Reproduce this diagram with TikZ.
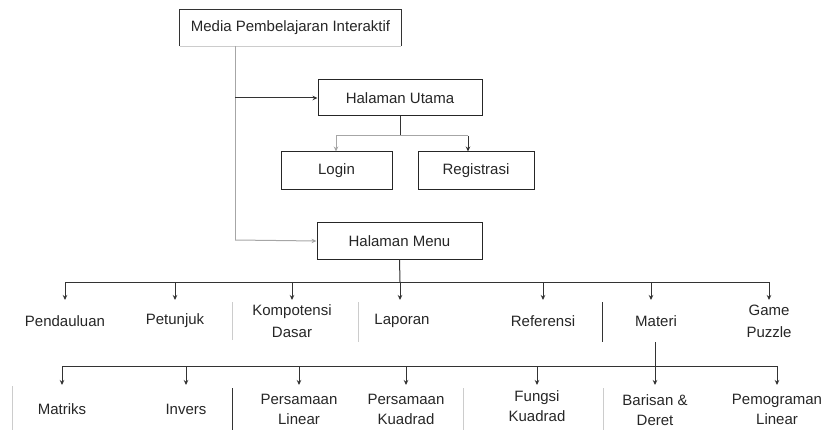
\documentclass[tikz,border=0pt]{standalone}
\usepackage{fontspec}
\setmainfont{Liberation Sans}
\usetikzlibrary{arrows.meta}
\begin{document}
\begin{tikzpicture}[x=1pt,y=-1pt,
  txt/.style={font=\fontsize{15}{22}\selectfont, text=black!85, align=center, inner sep=0pt},
  txtb/.style={font=\fontsize{15}{20}\selectfont, text=black!85, align=center, inner sep=0pt},
  boxn/.style={txt, draw=black!85, line width=1pt, minimum height=36pt},
  ln/.style={line width=1pt, draw=black!80},
  lgray/.style={line width=1pt, draw=black!35},
  sep/.style={line width=1pt, draw=black!20},
  arr/.style={ln, -{Stealth[length=5pt,width=4.5pt]}},
  garr/.style={lgray, -{Stealth[length=5pt,width=4.5pt]}}]
\useasboundingbox (0,0) rectangle (821,430);
\clip (0,0) rectangle (821,430);

% top box (no visible bottom edge)
\node[txt, minimum width=221pt, minimum height=36pt] (top) at (290.5,28) {Media Pembelajaran Interaktif};
\draw[ln] (top.south west) -- (top.north west) -- (top.north east) -- (top.south east);
\draw[sep] (top.south west) -- (top.south east);

\node[boxn, minimum width=164pt] (utama) at (400,98) {Halaman Utama};
\node[boxn, minimum width=111pt, minimum height=38pt] (login) at (336.5,171) {Login};
\node[boxn, minimum width=116pt, minimum height=38pt] (reg) at (476,171) {Registrasi};
\node[boxn, minimum width=165pt] (menu) at (399.5,241) {Halaman Menu};

% trunk from top box
\coordinate (t0) at (235,46);
\coordinate (t1) at (235,98);
\coordinate (t2) at (235,240);
\draw[lgray] (t0) -- (t2);
\draw[arr] (t1) -- (utama.west);
\draw[garr] (t2) -- (menu.west);

% utama -> login / registrasi
\coordinate (u0) at (400,136);
\coordinate (uL) at (336,136);
\coordinate (uR) at (468,136);
\draw[ln] (utama.south) -- (u0);
\draw[lgray] (uL) -- (uR);
\draw[garr] (uL) -- (uL |- login.north);
\draw[arr] (uR) -- (uR |- reg.north);

% level 2 labels
\foreach \n/\x/\t in {pend/65/Pendauluan, pet/175/Petunjuk, komp/292/Kompotensi\\Dasar, lap/402/Laporan, ref/543/Referensi, mat/656/Materi, game/769/Game\\Puzzle}{
  \node[txt] (\n) at (\x,321) {\t};
}
\coordinate (m0) at (400,282);
\draw[ln] (menu.south) -- (m0);
\draw[ln] (65,282) coordinate (mL) -- (769,282) coordinate (mR);
\foreach \x in {65,175,292,400,543,651,769}{
  \draw[arr] (\x,282) -- (\x,300);
}

% separators level 2
\draw[sep] (232,302) -- (232,340);
\draw[sep] (358,302) -- (358,342);
\draw[ln] (602,302) -- (602,342);

% level 3
\coordinate (b0) at (655,342);
\coordinate (b1) at (655,366);
\draw[ln] (b0) -- (b1);
\draw[ln] (62,366) -- (777,366);
\foreach \x in {62,186,299,406,537,655,777}{
  \draw[arr] (\x,366) -- (\x,385);
}
\foreach \n/\x/\y/\t in {matr/62/409/Matriks, inv/186/409/Invers, pl/299/409/Persamaan\\Linear, pk/406/409/Persamaan\\Kuadrad, fk/537/406/Fungsi\\Kuadrad, bd/655/410/Barisan \&\\Deret, pml/777/409/Pemograman\\Linear}{
  \node[txtb] (\n) at (\x,\y) {\t};
}
\draw[sep] (12,386) -- (12,430);
\draw[ln] (232,388) -- (232,430);
\draw[sep] (463,388) -- (463,430);
\draw[sep] (603,388) -- (603,430);
\end{tikzpicture}
\end{document}
